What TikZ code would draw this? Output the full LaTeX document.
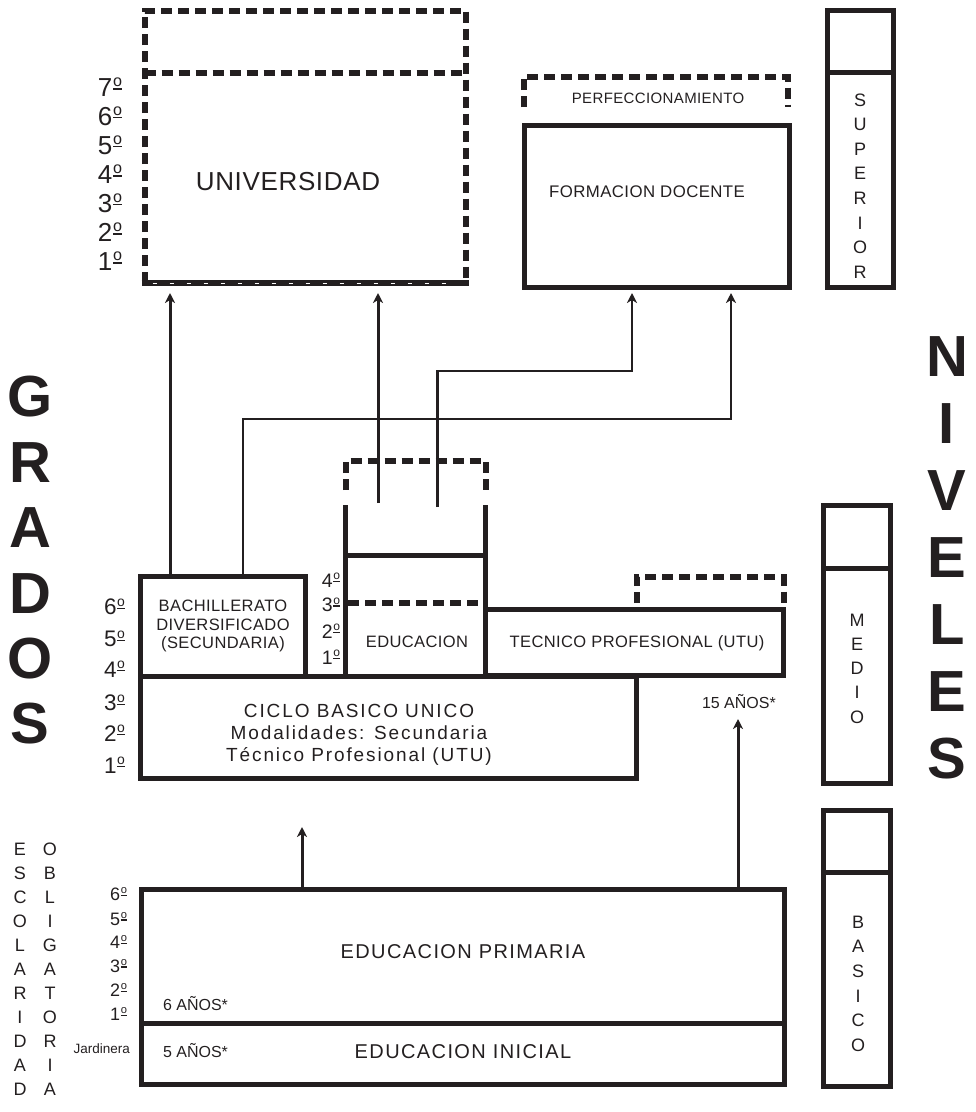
\documentclass[tikz,border=0pt]{standalone}
\usepackage{fontspec}
\usepackage{graphicx}
\setmainfont{Liberation Sans}
\newfontfamily\tA[LetterSpace=2.5]{Liberation Sans}
\newfontfamily\tB[LetterSpace=10]{Liberation Sans}
\newfontfamily\tC[LetterSpace=7]{Liberation Sans}
\newcommand\ordm{\kern0.03em\raisebox{0.26em}{\vbox{\hbox{\scalebox{0.62}{o}}\kern0.05em\hrule height 0.07em}}}
\usetikzlibrary{arrows.meta}
\definecolor{ink}{HTML}{231F20}
\begin{document}
\begin{tikzpicture}[x=1pt,y=-1pt,
  every node/.style={inner sep=0pt, outer sep=0pt, text=ink},
  frame/.style={draw=ink, line width=5pt},
  dframe/.style={draw=ink, line width=6pt, dash pattern=on 11pt off 6pt},
  thinline/.style={draw=ink, line width=2.4pt},
  tipend/.style={-{Stealth[length=10pt,width=10pt,inset=3pt]}},
  arr/.style={draw=ink, line width=3pt, tipend},
  pl/.style={font={\fontsize{#1}{#1}\selectfont}},
  ta/.style={font={\tA\fontsize{#1}{#1}\selectfont}},
  tb/.style={font={\tB\fontsize{#1}{#1}\selectfont}},
  tc/.style={font={\tC\fontsize{#1}{#1}\selectfont}},
  big/.style={font={\fontsize{58}{58}\selectfont\bfseries}},
]
\useasboundingbox (0,0) rectangle (976,1112);

% ---------- UNIVERSIDAD ----------
\node[minimum width=321.5pt, minimum height=272.5pt] (univ) at (305.25,146.75) {};
\draw[dframe] (univ.south west) -- (univ.north west) -- (univ.north east) -- (univ.south east);
\draw[dframe] (univ.west |- 0,73) -- (univ.east |- 0,73);
\draw[draw=ink, line width=6pt] ([xshift=-3pt]univ.south west) -- ([xshift=3pt]univ.south east);
\draw[white, line width=1pt, dash pattern=on 4pt off 13pt] ([xshift=8pt]univ.south west) -- ([xshift=-8pt]univ.south east);
\node[ta=26, anchor=base] (tuniv) at (288,190) {UNIVERSIDAD};
\foreach \g/\y in {7/87.5,6/116,5/145,4/174,3/203,2/232,1/261}
  \node[pl=26, anchor=east] (gu\g) at (122,\y) {{\g}\ordm};

% ---------- PERFECCIONAMIENTO / FORMACION DOCENTE ----------
\draw[dframe] (523.5,107) -- (523.5,76.5) -- (788,76.5) -- (788,107);
\node[ta=15, anchor=base] (tperf) at (658,103) {PERFECCIONAMIENTO};
\node[frame, minimum width=264.5pt, minimum height=162pt] (form) at (656.75,206.5) {};
\node[ta=16.8, anchor=base] (tform) at (647,197) {FORMACION DOCENTE};

% ---------- NIVEL bars ----------
\node[frame, minimum width=66pt, minimum height=277pt] (sup) at (860,149) {};
\draw[frame] (sup.west |- 0,72) -- (sup.east |- 0,72);
\foreach \l [count=\i from 0] in {S,U,P,E,R,I,O,R}
  \node[pl=18] (sl\i) at (860,{100+24.6*\i}) {\l};

\node[frame, minimum width=67pt, minimum height=277.5pt] (med) at (857,644.25) {};
\draw[frame] (med.west |- 0,568) -- (med.east |- 0,568);
\foreach \l [count=\i from 0] in {M,E,D,I,O}
  \node[pl=18] (ml\i) at (857,{620+24.2*\i}) {\l};

\node[frame, minimum width=67pt, minimum height=276.5pt] (bas) at (857,948.25) {};
\draw[frame] (bas.west |- 0,872) -- (bas.east |- 0,872);
\foreach \l [count=\i from 0] in {B,A,S,I,C,O}
  \node[pl=18] (bl\i) at (858,{922+24.6*\i}) {\l};

% ---------- MEDIO level boxes ----------
\node[frame, minimum width=165pt, minimum height=99.5pt] (bach) at (223,626.25) {};
\node[frame, minimum width=495.5pt, minimum height=102pt] (cbu) at (388.25,727) {};
\node[frame, minimum width=297.5pt, minimum height=65.5pt] (tec) at (634.25,642.25) {};

\node[ta=16.5, anchor=base] (b1) at (223,611) {BACHILLERATO};
\node[ta=16.5, anchor=base] (b2) at (223,630) {DIVERSIFICADO};
\node[ta=16.5, anchor=base] (b3) at (223,648) {(SECUNDARIA)};
\node[ta=16.5, anchor=base] (ttec) at (637,647) {TECNICO PROFESIONAL (UTU)};
\node[tb=19, anchor=base] (c1) at (359,717) {CICLO BASICO UNICO};
\node[tb=19, anchor=base] (c2) at (359,739) {Modalidades: Secundaria};
\node[tb=19, anchor=base] (c3) at (359,761) {Técnico Profesional (UTU)};

% educacion column
\draw[frame] (345.5,505) -- (345.5,676);
\draw[frame] (485.5,505) -- (485.5,676);
\draw[frame] (345.5,555.5) -- (485.5,555.5);
\draw[dframe] (345.5,490) -- (345.5,461) -- (485.5,461) -- (485.5,490);
\draw[dframe] (348,603) -- (481,603);
\node[ta=16.5, anchor=base] (tedu) at (417,647) {EDUCACION};
\foreach \g/\y in {4/580,3/605,2/631,1/657}
  \node[pl=19.5, anchor=east] (ge\g) at (340,\y) {{\g}\ordm};

% tecnico dashed extension
\draw[dframe] (637,603) -- (637,577) -- (783.5,577) -- (783.5,603);
\node[pl=16, anchor=base west] (a15) at (702,708) {15 AÑOS*};

\foreach \g/\y in {6/607,5/639,4/669,3/703,2/733,1/765}
  \node[pl=22.5, anchor=east] (gm\g) at (125,\y) {{\g}\ordm};

% ---------- BASICO level ----------
\node[frame, minimum width=643.5pt, minimum height=134.5pt] (prim) at (462.75,956.25) {};
\node[frame, minimum width=643.5pt, minimum height=60.5pt] (inic) at (462.75,1053.75) {};
\node[tc=20, anchor=base] (tprim) at (463,958) {EDUCACION PRIMARIA};
\node[tc=20, anchor=base] (tinic) at (463,1058) {EDUCACION INICIAL};
\node[pl=16, anchor=base west] (a6) at (163,1010) {6 AÑOS*};
\node[pl=16, anchor=base west] (a5) at (163,1057) {5 AÑOS*};
\node[pl=13.5, anchor=base east] (jard) at (130,1053) {Jardinera};
\foreach \g/\y in {6/894.5,5/919,4/942,3/966,2/990,1/1014}
  \node[pl=18, anchor=east] (gp\g) at (127,\y) {{\g}\ordm};

% ---------- connectors ----------
\coordinate (e1) at (170,293);
\draw[arr] (bach.north -| e1) -- (e1);
\coordinate (s2) at (378,503);
\coordinate (e2) at (378,293);
\draw[arr] (s2) -- (e2);
\coordinate (s3) at (437.5,507);
\coordinate (e3) at (632,293);
\draw[thinline, tipend] (s3) |- (e3 |- 0,371) -- (e3);
\coordinate (e4) at (731,293);
\draw[thinline, tipend] (bach.north -| 243,0) |- (e4 |- 0,419) -- (e4);
\coordinate (e5) at (302,827);
\draw[arr] (prim.north -| e5) -- (e5);
\coordinate (e6) at (738,719);
\draw[arr] (prim.north -| e6) -- (e6);

% ---------- side titles ----------
\foreach \l [count=\i from 0] in {G,R,A,D,O,S}
  \node[big] (gr\i) at (30,{397+65.4*\i}) {\l};
\foreach \l [count=\i from 0] in {N,I,V,E,L,E,S}
  \node[big] (ni\i) at (947,{357+67*\i}) {\l};
\foreach \l [count=\i from 0] in {E,S,C,O,L,A,R,I,D,A,D}
  \node[pl=18] (esc\i) at (20,{849+24*\i}) {\l};
\foreach \l [count=\i from 0] in {O,B,L,I,G,A,T,O,R,I,A}
  \node[pl=18] (obl\i) at (50,{849+24*\i}) {\l};
\end{tikzpicture}
\end{document}
